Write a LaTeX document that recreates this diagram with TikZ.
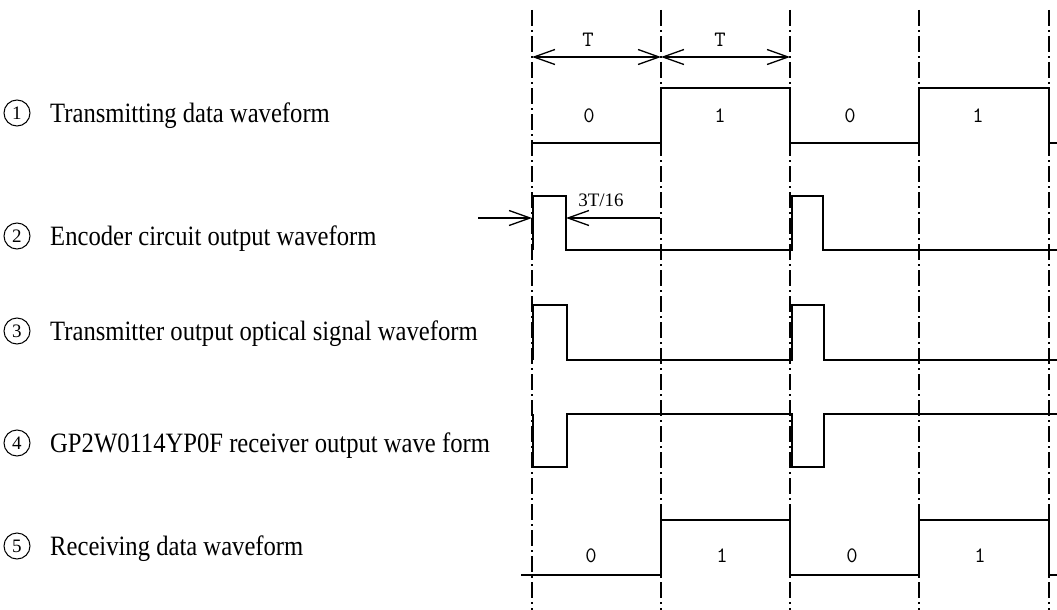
\documentclass[tikz,border=0pt]{standalone}
\usepackage{fontspec}
\setmainfont{Liberation Serif}
\newfontfamily\labfont[FakeStretch=0.88]{Liberation Serif}
\usetikzlibrary{arrows.meta}

\tikzset{
  wave/.style={line width=2pt, line join=miter},
  guide/.style={line width=1.4pt, dash pattern=on 16pt off 4pt on 2pt off 4pt},
  span/.style={line width=1.3pt, {Straight Barb[length=21pt,width=15pt]}-{Straight Barb[length=21pt,width=15pt]}},
  halfspan/.style={line width=1.3pt, -{Straight Barb[length=21pt,width=15pt]}},
  bit/.style={inner sep=0pt, font=\ttfamily\fontsize{22}{22}\selectfont},
  rowlabel/.style={anchor=base west, inner sep=0pt, font=\labfont\fontsize{28}{28}\selectfont},
  rownum/.style={circle, draw, line width=1pt, minimum size=26pt, inner sep=0pt,
    font=\fontsize{19}{19}\selectfont},
}

\begin{document}
\begin{tikzpicture}[x=1pt, y=-1pt]
    \useasboundingbox (0,0) rectangle (1057,610);
    % Bit boundaries, one period T apart
    \foreach \i/\x in {0/532,1/661,2/790,3/919,4/1049} {
      \draw[guide] (\x,10) -- (\x,610);
      \coordinate (g\i) at (\x,57);
    }
    \draw[span] (g0) -- (g1);
    \draw[span] (g1) -- (g2);
    \node[bit] (per1) at (588,40) {T};
    \node[bit] (per2) at (720,40) {T};
    % 1 transmitting data
    \draw[wave] (532,143) -- (661,143) -- (661,88) -- (790,88) -- (790,143)
      -- (919,143) -- (919,88) -- (1049,88) -- (1049,143) -- (1057,143);
    \foreach \x/\b [count=\k] in {589/0,720/1,850/0,978/1}
      \node[bit] (tx\k) at (\x,116) {\b};
    % 2 encoder output, pulses of 3T/16
    \draw[wave] (533,250) -- (533,196) -- (566,196) -- (566,250) -- (792,250)
      -- (792,196) -- (823,196) -- (823,250) -- (1057,250);
    \coordinate (encin) at (478,218);
    \coordinate (encup) at (532,218);
    \coordinate (encdn) at (566,218);
    \coordinate (encend) at (660,218);
    \draw[halfspan] (encin) -- (encup);
    \draw[halfspan] (encend) -- (encdn);
    \node[inner sep=0pt, font=\fontsize{19}{19}\selectfont] (width) at (601,200) {3T/16};
    % 3 optical signal
    \draw[wave] (533,360) -- (533,305) -- (567,305) -- (567,360) -- (792,360)
      -- (792,305) -- (824,305) -- (824,360) -- (1057,360);
    % 4 receiver output
    \draw[wave] (533,414) -- (533,467) -- (567,467) -- (567,414) -- (792,414)
      -- (792,467) -- (824,467) -- (824,414) -- (1057,414);
    % 5 receiving data
    \draw[wave] (521,575) -- (661,575) -- (661,520) -- (790,520) -- (790,575)
      -- (919,575) -- (919,520) -- (1049,520) -- (1049,575) -- (1057,575);
    \foreach \x/\b [count=\k] in {591/0,722/1,852/0,980/1}
      \node[bit] (rx\k) at (\x,556) {\b};
    % Labels
    \foreach \y/\t [count=\k] in {122/Transmitting data waveform,
        245/Encoder circuit output waveform,
        340/Transmitter output optical signal waveform,
        452/GP2W0114YP0F receiver output wave form,
        555/Receiving data waveform} {
      \node[rownum] (num\k) at (17,\y-9) {\k};
      \node[rowlabel] (lab\k) at (50,\y) {\t};
    }
\end{tikzpicture}
\end{document}
